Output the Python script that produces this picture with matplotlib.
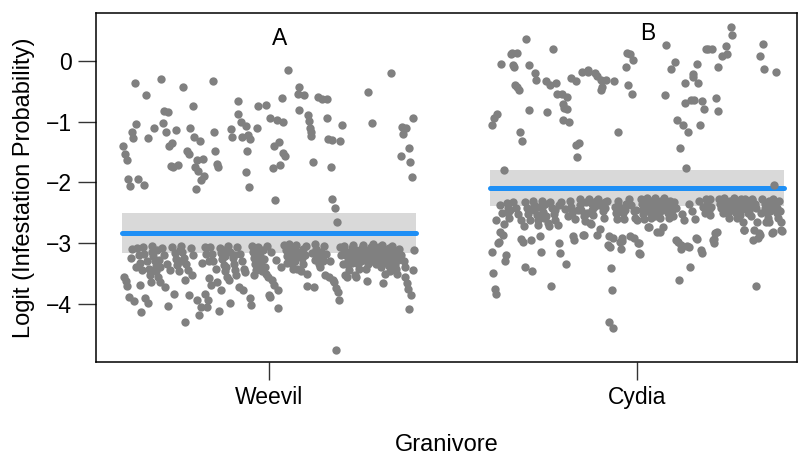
import matplotlib
matplotlib.use("Agg")
import matplotlib.pyplot as plt
import numpy as np

plt.rcParams['font.family'] = ['Liberation Sans', 'DejaVu Sans']

# Granivore levels and panel letters
groups = ["Weevil", "Cydia"]
panel_letters = ["A", "B"]

# Fitted logit and 95% confidence limits per level
fit = [-2.84, -2.09]
ci_low = [-3.17, -2.39]
ci_high = [-2.51, -1.79]

# Partial residuals (logit scale), in plotting order within each level
weevil_resid = [
    -1.40, -3.55, -1.54, -3.62, -1.63, -3.70, -1.95, -3.88, -2.06, -3.25, -1.18, -3.10, -1.27, -3.96, -0.37, -3.40, -1.04,
    -3.08, -1.95, -3.20, -3.32, -3.69, -4.14, -3.45,
    -3.06, -2.04, -3.18, -3.91, -0.56, -3.30, -1.27, -3.99, -3.42, -3.52, -3.64,
    -3.05, -3.14, -3.22, -1.10, -3.30, -3.38, -3.46, -3.12, -3.55, -3.28, -3.40, -3.64,
    -0.30, -3.08, -1.03, -3.20, -0.82, -3.72, -1.17, -3.35, -4.03, -0.85, -1.40, -3.45, -1.73, -1.36,
    -3.06, -1.75, -3.84, -3.16, -3.26, -1.14, -3.36, -1.72, -3.46, -3.12, -3.30,
    -3.05, -3.15, -0.44, -3.25, -3.61, -4.29, -3.35, -1.48, -3.45, -3.85, -1.54,
    -1.10, -3.08, -3.52, -0.75, -3.20, -1.26, -1.75, -2.11, -3.94, -1.64, -1.81, -4.18, -1.32, -1.97, -4.05, -3.32, -1.62, -1.89,
    -3.06, -3.83, -3.18, -4.05, -3.94, -3.30, -3.58,
    -3.06, -3.69, -3.18, -0.33, -3.30, -1.18, -1.48, -3.42, -1.70, -3.64, -1.74, -4.12,
    -3.08, -3.77, -3.16, -3.26, -3.12, -3.36, -3.22, -3.46, -3.40, -3.55,
    -3.05, -3.61, -3.15, -3.99, -1.12, -1.26, -3.25, -3.35, -3.20, -3.45, -3.52,
    -3.06, -0.67, -0.88, -3.72, -3.18, -1.00, -3.30, -1.25, -3.77, -3.42, -3.47, -1.83, -1.08, -1.48,
    -1.23, -2.07, -1.29, -3.90, -4.02, -3.05, -3.15, -3.52, -3.25, -3.35, -3.44, -1.10,
    -0.75, -3.06, -3.14, -3.22, -3.30, -3.38, -3.46, -3.12, -3.26, -3.40, -3.50,
    -0.73, -3.04, -3.55, -3.85, -0.95, -3.88, -3.15, -3.61, -1.77, -3.69, -1.41, -2.29, -3.28, -0.98, -4.06, -3.77, -1.34, -1.71, -3.40, -0.62,
    -1.01, -1.51, -3.03, -1.56, -3.12, -3.22, -3.32,
    -0.15, -3.02, -3.10, -3.18, -3.26, -3.34, -3.42, -3.12, -3.22, -3.30,
    -3.03, -3.42, -0.55, -0.44, -0.81, -3.14, -3.46, -3.25, -3.35, -3.10, -0.56, -3.20,
    -3.04, -3.50, -3.70, -0.90, -0.99, -1.10, -1.17, -1.24, -3.16, -1.67, -3.73, -3.28,
    -3.02, -3.10, -3.18, -0.60, -3.26, -3.34, -3.39, -3.14, -0.63, -3.22, -3.30,
    -3.05, -3.53, -3.18, -0.63, -0.94, -1.29, -3.55, -3.30, -1.75, -1.30, -2.28, -3.61,
    -3.64, -2.43, -3.74, -4.75, -2.66, -3.80, -3.94, -1.32, -3.06, -3.20, -1.06, -3.34,
    -3.04, -3.12, -3.52, -3.20, -3.55, -3.28, -3.36, -3.44, -3.14, -3.24, -3.08, -3.32,
    -3.03, -3.10, -3.52, -3.18, -3.55, -3.26, -3.34, -3.42, -3.12, -3.22, -3.30, -3.08,
    -3.03, -3.10, -3.18, -3.26, -3.42, -3.62, -0.52, -3.34, -3.14, -3.22, -3.06, -3.30,
    -1.03, -3.02, -3.10, -3.18, -3.26, -3.34, -3.14, -3.22, -3.06, -3.30, -3.12, -3.40,
    -3.03, -3.65, -3.12, -3.50, -3.22, -3.32, -3.16, -3.26, -3.08, -3.38, -3.46, -0.20,
    -3.04, -3.14, -3.24, -3.34, -3.36, -3.42, -3.50, -3.18, -3.28, -3.10, -3.20,
    -1.56, -3.20, -1.09, -1.21, -3.30, -3.40, -3.55, -1.10, -3.65, -3.75, -4.08, -1.43, -1.67, -3.85, -1.91, -3.45, -0.94, -3.11,
]

cydia_resid = [
    -3.14, -1.06, -3.49, -0.95, -3.76, -2.62, -3.84, -0.88, -3.00, -2.98, -2.81, -2.38, -0.06, -2.50, -2.87,
    -2.68, -1.79, -3.29, -3.20, -2.34, -2.42, -2.50, -2.58, -2.45, 0.11,
    0.12, -0.07, -2.33, -0.11, -0.40, -2.42, 0.13, -0.44, -2.52, -0.48, -1.17, -2.94, -2.62, -1.32, -2.98, -2.72, -3.40,
    -2.32, 0.35, -2.42, -2.52, -0.07, -0.81, -2.62, -2.95,
    -3.46, -2.30, -2.38, -2.46, -0.21, -0.32, -2.54, -2.62, -2.70, -2.40, -2.89,
    -3.14, -2.31, -2.40, -2.49, -2.58, -2.36, -2.55, -0.34, -0.84, -2.67, -2.72,
    -0.40, -2.32, -3.70, -2.42, 0.19, -2.52, -2.62, -2.46, -0.37, -0.55, -2.70, -2.38,
    -3.00, -3.17, -2.33, -0.55, -0.72, -0.97, -0.77, -2.44, -3.34, -0.59, -0.79, -2.56,
    -1.00, -2.30, -0.29, -2.40, -2.50, -2.89, -2.95, -2.60, -1.38, -0.34, -1.59, -2.45,
    -1.36, -2.28, -2.37, -2.46, -0.18, -2.87, -2.87, -2.55, -2.64, -2.33, -2.50,
    -0.19, -0.15, -2.27, -2.67, -2.69, -2.36, -2.45, -2.54, -2.40, -0.21, -2.31,
    -0.25, -2.87, -2.28, -2.38, -2.76, -0.32, -0.48, -0.44, -2.48, -2.58, -2.33, -2.43,
    -0.32, -2.30, -3.03, -2.89, -4.29, -3.06, -3.41, -3.77, -4.40, -2.92, -0.33, -2.40, -2.50, -2.60,
    -1.17, -2.30, -2.40, -2.98, -3.09, -2.96, -2.92, -2.50, -2.60, -2.45, -2.35, -0.11,
    0.12, -0.40, -2.28, -2.89, 0.11, -2.38, -0.55, 0.01, -2.92, -2.48, -2.58, -2.46, -2.62,
    -2.99, -3.17, -3.00, -3.18, -2.28, -2.36, -2.44, -2.52, -2.60, -2.32, -2.48,
    -2.26, -2.34, -2.74, -2.73, -2.42, -2.50, -2.58, -2.30, -2.46, -2.38, -2.55,
    -2.26, -2.34, -2.81, -2.42, -2.50, -2.81, -2.58, -2.30, -2.46, -2.73, -2.38,
    -2.26, -0.57, 0.26, -2.34, -2.42, -2.50, -2.58, -2.30, -0.14, -2.46, -2.38, -2.55,
    -2.32, -0.02, -2.95, -2.42, -0.98, -2.98, -3.61, -1.43, -3.09, -3.03, -2.52, -1.06, -2.62,
    -0.37, -0.70, -1.76, -3.05, -1.18, -2.35, -3.07, -3.40, -0.65, -2.48, -0.26, -0.22, -0.65, -2.60, -2.92, -2.94,
    -0.06, -0.37, -2.30, -1.05, -3.11, -3.17, -0.66, -2.40, -0.80, -2.50, 0.19,
    -2.27, -2.36, 0.19, -2.45, -2.54, -2.28, -2.40, 0.19, -2.95, -2.94,
    -3.00, -2.83, -0.62, -2.81, -0.11, -0.83, -2.27, -2.35, -2.43, 0.07, -2.51, -2.31,
    -2.26, -2.34, 0.24, 0.11, -2.42, -2.50, -2.58, -2.30, -2.46, 0.56, 0.43, -2.38,
    -2.26, -2.34, -2.42, -2.50, -2.58, -2.30, -2.46, -2.38, -2.54, -2.28, -2.44, -2.65,
    -2.79, -2.79, -2.27, -2.35, -2.43, -2.51, -2.31, -2.47, -2.39, -2.56, -2.29,
    -2.27, -2.95, -2.79, -2.35, -3.70, -2.43, -2.65, -2.92, -2.84, -2.87, 0.08, -2.51,
    -2.27, 0.27, -0.13, -2.35, -2.43, -2.65, -2.51, -2.59, -2.65, -2.31, -2.47, -2.39,
    -2.83, -2.27, -2.81, -2.05, -2.35, -0.18, -2.43, -2.51, -2.59, -2.31, -2.47, -2.79, -2.65, -2.80,
]

residuals = [weevil_resid, cydia_resid]
positions = [1, 2]
half_width = 0.40

fig = plt.figure(figsize=(7.99, 4.62), dpi=100)
ax = fig.add_axes([0.120, 0.2165, 0.8775, 0.7554])

for pos, res, f, lo, hi in zip(positions, residuals, fit, ci_low, ci_high):
    ax.fill_between([pos - half_width, pos + half_width], lo, hi,
                    color='#d9d9d9', lw=0, zorder=1)
    ax.plot([pos - half_width, pos + half_width], [f, f], color='#1e8ff5',
            lw=3.6, solid_capstyle='round', zorder=2)
    x = np.linspace(pos - half_width + 0.005, pos + half_width - 0.005, len(res))
    ax.scatter(x, res, s=36, color='#808080', lw=0, zorder=3)

letter_y = [0.37, 0.45]
for pos, letter, ly in zip(positions, panel_letters, letter_y):
    ax.text(pos + 0.03, ly, letter, ha='center', va='center', fontsize=16.5)

ax.set_xlim(0.530, 2.435)
ax.set_ylim(-4.955, 0.785)
ax.set_xticks(positions)
ax.set_xticklabels(groups)
ax.set_yticks([0, -1, -2, -3, -4])
ax.set_yticklabels(['0', '\u22121', '\u22122', '\u22123', '\u22124'])
ax.tick_params(axis='both', direction='out', length=13, width=1.0,
               labelsize=16.5, pad=4, color='#333333')
for sp in ax.spines.values():
    sp.set_linewidth(1.1)
ax.set_xlabel("Granivore", fontsize=17, labelpad=18)
ax.set_ylabel("Logit (Infestation Probability)", fontsize=17, labelpad=8)

fig.savefig("out.png", dpi=100)
